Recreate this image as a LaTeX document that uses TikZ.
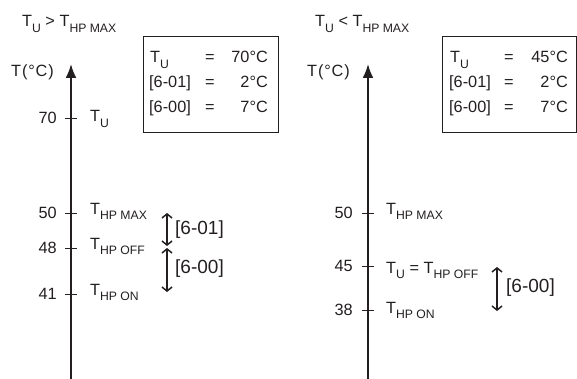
\documentclass[tikz,border=0pt]{standalone}
\usepackage{fontspec}
\setmainfont{Liberation Sans}
\usetikzlibrary{arrows.meta}

\definecolor{ink}{RGB}{35,31,32}
\newcommand{\Tsb}[1]{T\raisebox{-5.5pt}{\fontsize{12.2}{13}\selectfont #1}}
\newcommand{\degunit}{T\kern1pt(\kern0.8pt°\kern0.8pt C\kern0.8pt)}

\tikzset{
  txt/.style={font=\fontsize{16.3}{19}\selectfont, text=ink, inner sep=0pt},
  bigtxt/.style={font=\fontsize{19}{22}\selectfont, text=ink, inner sep=0pt},
  taxis/.style={draw=ink, line width=2pt, -{Latex[length=14pt,width=11pt]}},
  tick/.style={draw=ink, line width=0.8pt},
  span/.style={draw=ink, line width=1.5pt, {Straight Barb[length=4pt,width=10pt]}-{Straight Barb[length=4pt,width=10pt]}},
  infobox/.style={draw=ink, line width=0.9pt}
}

\begin{document}
\begin{tikzpicture}[x=1pt,y=-1pt]
\useasboundingbox (0,0) rectangle (577,379);

% left: T_U above T_HP MAX
\node[txt,anchor=base west] (titleL) at (22,27) {\Tsb{U} > \Tsb{HP MAX}};
\node[txt,anchor=base west] (unitL) at (11,77) {\degunit};
\coordinate (footL) at (71,379);
\coordinate (headL) at (71,64);
\draw[taxis] (footL) -- (headL);

\draw[tick] (65,118) -- (77,118);
\draw[tick] (65,213) -- (77,213);
\draw[tick] (65,248) -- (77,248);
\draw[tick] (65,294) -- (77,294);
\node[txt,anchor=east] (n70L) at (57,118) {70};
\node[txt,anchor=east] (n50L) at (57,213) {50};
\node[txt,anchor=east] (n48L) at (57,248) {48};
\node[txt,anchor=east] (n41L) at (57,294) {41};
\node[txt,anchor=base west] (tuL) at (90,122) {\Tsb{U}};
\node[txt,anchor=base west] (tmaxL) at (90,214) {\Tsb{HP MAX}};
\node[txt,anchor=base west] (toffL) at (90,249) {\Tsb{HP OFF}};
\node[txt,anchor=base west] (tonL) at (90,295) {\Tsb{HP ON}};

% hysteresis spans
\coordinate (maxL) at (167,213);
\coordinate (offL) at (167,246);
\coordinate (offLb) at (167,248);
\coordinate (onL) at (167,292);
\draw[span] (maxL) -- (offL);
\draw[span] (offLb) -- (onL);
\node[bigtxt,anchor=west] (d601L) at (175,230) {[6-01]};
\node[bigtxt,anchor=west] (d600L) at (175,269) {[6-00]};

% settings box
\draw[infobox] (143,36) rectangle (278,132);
\node[txt,anchor=base west] (kuL) at (150,63) {\Tsb{U}};
\node[txt,anchor=base west] (k1L) at (149,88) {[6-01]};
\node[txt,anchor=base west] (k0L) at (149,113) {[6-00]};
\node[txt,anchor=base west] (euL) at (205,63) {=};
\node[txt,anchor=base west] (e1L) at (205,88) {=};
\node[txt,anchor=base west] (e0L) at (205,113) {=};
\node[txt,anchor=base east] (vuL) at (268,63) {70°C};
\node[txt,anchor=base east] (v1L) at (268,88) {2°C};
\node[txt,anchor=base east] (v0L) at (268,113) {7°C};

% right: T_U below T_HP MAX
\node[txt,anchor=base west] (titleR) at (315,27) {\Tsb{U} < \Tsb{HP MAX}};
\node[txt,anchor=base west] (unitR) at (307,77) {\degunit};
\coordinate (footR) at (368,379);
\coordinate (headR) at (368,64);
\draw[taxis] (footR) -- (headR);

\draw[tick] (362,213) -- (374,213);
\draw[tick] (362,266) -- (374,266);
\draw[tick] (362,310) -- (374,310);
\node[txt,anchor=east] (n50R) at (353,213) {50};
\node[txt,anchor=east] (n45R) at (353,266) {45};
\node[txt,anchor=east] (n38R) at (353,310) {38};
\node[txt,anchor=base west] (tmaxR) at (386,214) {\Tsb{HP MAX}};
\node[txt,anchor=base west] (toffR) at (386,273) {\Tsb{U} = \Tsb{HP OFF}};
\node[txt,anchor=base west] (tonR) at (386,313) {\Tsb{HP ON}};

\coordinate (offR) at (497,267);
\coordinate (onR) at (497,311);
\draw[span] (offR) -- (onR);
\node[bigtxt,anchor=west] (d600R) at (506,288) {[6-00]};

\draw[infobox] (442,36) rectangle (576.5,132);
\node[txt,anchor=base west] (kuR) at (450,63) {\Tsb{U}};
\node[txt,anchor=base west] (k1R) at (449,88) {[6-01]};
\node[txt,anchor=base west] (k0R) at (449,113) {[6-00]};
\node[txt,anchor=base west] (euR) at (504,63) {=};
\node[txt,anchor=base west] (e1R) at (504,88) {=};
\node[txt,anchor=base west] (e0R) at (504,113) {=};
\node[txt,anchor=base east] (vuR) at (568,63) {45°C};
\node[txt,anchor=base east] (v1R) at (568,88) {2°C};
\node[txt,anchor=base east] (v0R) at (568,113) {7°C};
\end{tikzpicture}
\end{document}
